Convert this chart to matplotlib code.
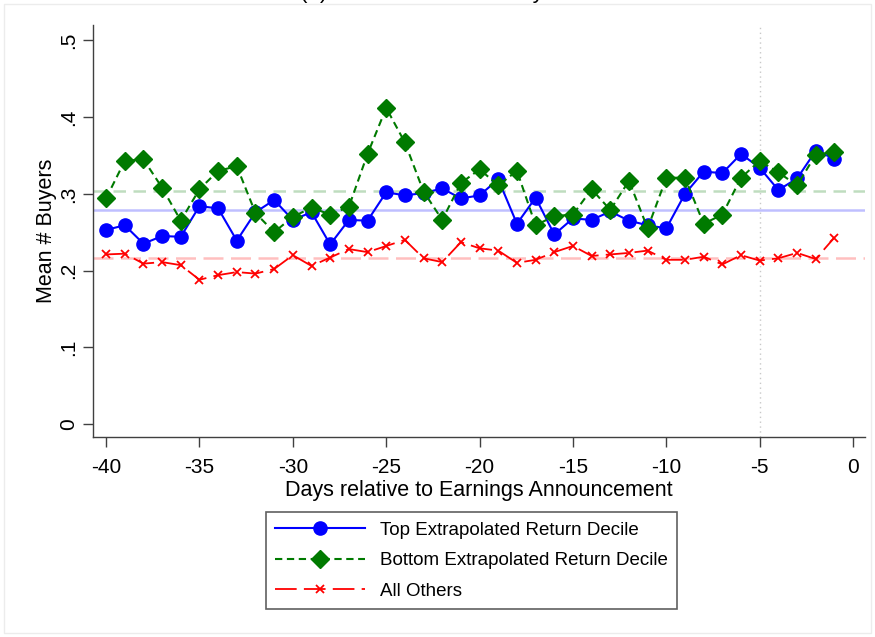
import matplotlib
matplotlib.use('Agg')
import matplotlib.pyplot as plt
from matplotlib.patches import Rectangle

plt.rcParams['font.family'] = ['Liberation Sans', 'DejaVu Sans']
plt.rcParams['axes.unicode_minus'] = False

# 事件窗口：公告日前40天到前1天
days = list(range(-40, 0))

top_decile = [0.253, 0.259, 0.235, 0.245, 0.244, 0.284, 0.281, 0.239, 0.276, 0.292,
              0.266, 0.276, 0.234, 0.266, 0.265, 0.302, 0.298, 0.301, 0.307, 0.294,
              0.298, 0.319, 0.261, 0.295, 0.247, 0.268, 0.266, 0.277, 0.265, 0.259,
              0.255, 0.300, 0.329, 0.327, 0.352, 0.334, 0.305, 0.320, 0.356, 0.346]
bottom_decile = [0.294, 0.343, 0.345, 0.308, 0.265, 0.306, 0.330, 0.336, 0.275, 0.250,
                 0.270, 0.282, 0.273, 0.283, 0.352, 0.412, 0.367, 0.303, 0.266, 0.314,
                 0.332, 0.311, 0.330, 0.259, 0.271, 0.273, 0.306, 0.279, 0.317, 0.255,
                 0.321, 0.321, 0.261, 0.273, 0.321, 0.343, 0.328, 0.311, 0.351, 0.355]
all_others = [0.221, 0.222, 0.209, 0.211, 0.207, 0.188, 0.194, 0.198, 0.196, 0.202,
              0.220, 0.206, 0.217, 0.228, 0.224, 0.232, 0.240, 0.216, 0.211, 0.237,
              0.229, 0.226, 0.210, 0.214, 0.224, 0.232, 0.219, 0.221, 0.223, 0.226,
              0.214, 0.214, 0.218, 0.208, 0.220, 0.213, 0.216, 0.223, 0.215, 0.243]

# 全样本均值（水平参考线）
mean_top = 0.2786
mean_bottom = 0.3035
mean_others = 0.2170

xticks = [-40, -35, -30, -25, -20, -15, -10, -5, 0]
yticks = [0, 0.1, 0.2, 0.3, 0.4, 0.5]
yticklabels = ['0', '.1', '.2', '.3', '.4', '.5']
event_line = -5

BLUE = '#0000ff'
GREEN = '#007a00'
RED = '#ff0000'

fig = plt.figure(figsize=(8.75, 6.37), dpi=100)
ax = fig.add_axes([0.1063, 0.314, 0.8823, 0.646])

# 参考线
ax.axhline(mean_bottom, color=GREEN, alpha=0.25, lw=1.8, linestyle=(0, (5, 3)), zorder=1)
ax.axhline(mean_top, color=BLUE, alpha=0.25, lw=1.8, zorder=1)
ax.axhline(mean_others, color=RED, alpha=0.25, lw=1.8, linestyle=(0, (8, 3)), zorder=1)
ax.axvline(event_line, color='#c8c8c8', lw=1.0, linestyle=(0, (1, 2.5)), zorder=1)

ax.plot(days, top_decile, color=BLUE, lw=1.5, marker='o', markersize=9.5,
        label='Top Extrapolated Return Decile', zorder=3)
ax.plot(days, bottom_decile, color=GREEN, lw=1.5, linestyle=(0, (3.5, 2.2)),
        marker='D', markersize=9.5, label='Bottom Extrapolated Return Decile', zorder=4)
ax.plot(days, all_others, color=RED, lw=1.3, linestyle=(0, (12, 4)),
        marker='x', markersize=6, markeredgewidth=1.3, label='All Others', zorder=3)

ax.set_xlim(-40.7, 0.64)
ax.set_ylim(-0.017, 0.5195)
ax.set_xticks(xticks)
ax.set_yticks(yticks)
ax.set_yticklabels(yticklabels, rotation=90, va='center')

for s in ['top', 'right']:
    ax.spines[s].set_visible(False)
for s in ['left', 'bottom']:
    ax.spines[s].set_color('#404040')
    ax.spines[s].set_linewidth(1.0)
ax.tick_params(direction='out', length=7, width=1.0, color='#404040', labelsize=15)
ax.tick_params(axis='x', pad=8)
ax.tick_params(axis='y', pad=4)

ax.set_xlabel('Days relative to Earnings Announcement', fontsize=15.5, labelpad=2)
ax.set_ylabel('Mean # Buyers', fontsize=15.5, labelpad=1)

# 标题（被截在图幅顶端之外）
fig.text(0.5, 0.995, '(a) Mean Number of Buyers', ha='center', va='bottom', fontsize=16)

leg = ax.legend(loc='upper center', bbox_to_anchor=(0.539, 0.2105), bbox_transform=fig.transFigure,
                fontsize=13.5, handlelength=4.8, handletextpad=0.8, borderpad=0.5,
                labelspacing=0.72, fancybox=False, framealpha=1, edgecolor='#606060')
leg.get_frame().set_linewidth(1.2)

# 外框
fig.patches.append(Rectangle((4 / 875, 4 / 637), 1 - 8 / 875, 1 - 8 / 637,
                             transform=fig.transFigure, fill=False,
                             edgecolor='#ececec', lw=1))

fig.savefig('out.png', dpi=100)
